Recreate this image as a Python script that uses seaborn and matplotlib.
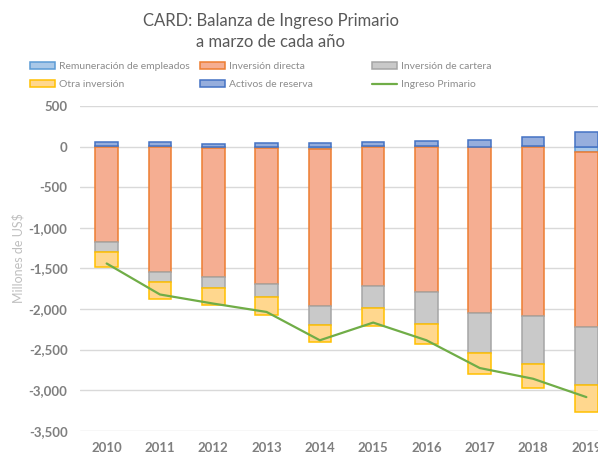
import numpy as np
import pandas as pd
import seaborn as sns
import matplotlib.pyplot as plt
from matplotlib.patches import Patch
from matplotlib.lines import Line2D

# Data (millones de US$)
years = ["2010", "2011", "2012", "2013", "2014", "2015", "2016", "2017", "2018", "2019"]
remuneracion = [12, 12, -20, -18, -28, 12, 12, -6, 8, -62]
inversion_directa = [-1173, -1551, -1585, -1669, -1935, -1716, -1790, -2039, -2086, -2160]
inversion_cartera = [-123, -123, -143, -165, -238, -272, -399, -498, -597, -720]
otra_inversion = [-193, -206, -206, -217, -206, -222, -247, -255, -288, -330]
activos_reserva = [42, 50, 37, 45, 50, 50, 58, 87, 115, 185]
ingreso_primario = [-1440, -1822, -1934, -2037, -2386, -2168, -2386, -2728, -2860, -3086]

sns.set_style("white")
plt.rcParams["font.family"] = ["Lato", "DejaVu Sans"]

fig = plt.figure(figsize=(5.98, 4.53), dpi=100)
ax = fig.add_axes([80 / 598, (453 - 430.7) / 453, 533 / 598, (430.7 - 106) / 453])

series = [
  ("Remuneración de empleados", remuneracion, "#a9c8e8", "#5b9bd5"),
  ("Inversión directa", inversion_directa, "#f5ae92", "#ed7d31"),
  ("Inversión de cartera", inversion_cartera, "#c9c9c9", "#a5a5a5"),
  ("Otra inversión", otra_inversion, "#ffd78e", "#ffc000"),
  ("Activos de reserva", activos_reserva, "#96aedd", "#4472c4"),
]

pos = np.zeros(len(years))
neg = np.zeros(len(years))
handles = {}
for name, vals, fc, ec in series:
  vals = np.array(vals, dtype=float)
  bottom = np.where(vals >= 0, pos, neg)
  ax.bar(years, vals, bottom=bottom, width=0.425, color=fc, edgecolor=ec, linewidth=1.1, zorder=2)
  pos += np.clip(vals, 0, None)
  neg += np.clip(vals, None, 0)
  handles[name] = Patch(facecolor=fc, edgecolor=ec, linewidth=1.1)

df_line = pd.DataFrame({"year": years, "ingreso": ingreso_primario})
sns.lineplot(data=df_line, x="year", y="ingreso", ax=ax, color="#70ad47", linewidth=1.6, sort=False, zorder=3)
handles["Ingreso Primario"] = Line2D([], [], color="#70ad47", linewidth=1.6)

ax.set_xlim(-0.5, 9.5)
ax.set_ylim(-3500, 500)
ax.set_yticks(np.arange(-3500, 501, 500))
ax.set_yticklabels([f"{v:,.0f}" for v in np.arange(-3500, 501, 500)])
ax.grid(axis="y", color="#d9d9d9", linewidth=1, zorder=0)
ax.set_axisbelow(True)
for s in ax.spines.values():
  s.set_visible(False)
ax.tick_params(axis="both", length=0, labelsize=9.5, labelcolor="#7f7f7f")
ax.tick_params(axis="y", pad=9)
ax.tick_params(axis="x", pad=8)
for lbl in ax.get_xticklabels() + ax.get_yticklabels():
  lbl.set_fontweight("bold")
ax.set_xlabel("")
ax.set_ylabel("")
fig.text(18 / 598, 1 - 258 / 453, "Millones de US$", rotation=90, ha="center", va="center",
         fontsize=9, color="#bfbfbf")

fig.text(271 / 598, 1 - 21 / 453, "CARD: Balanza de Ingreso Primario", ha="center", va="center",
         fontsize=12, color="#595959")
fig.text(271 / 598, 1 - 42 / 453, "a marzo de cada año", ha="center", va="center",
         fontsize=12, color="#595959")

columns = [
  (30, ["Remuneración de empleados", "Otra inversión"]),
  (200, ["Inversión directa", "Activos de reserva"]),
  (372, ["Inversión de cartera", "Ingreso Primario"]),
]
for x0, names in columns:
  fig.legend([handles[n] for n in names], names, loc="upper left",
             bbox_to_anchor=(x0 / 598, 1 - 62 / 453), frameon=False, borderpad=0,
             borderaxespad=0, fontsize=7.5, labelcolor="#8c8c8c", handlelength=2.4,
             handleheight=0.7, handletextpad=0.35, labelspacing=0.85)

fig.savefig("out.png", dpi=100)
